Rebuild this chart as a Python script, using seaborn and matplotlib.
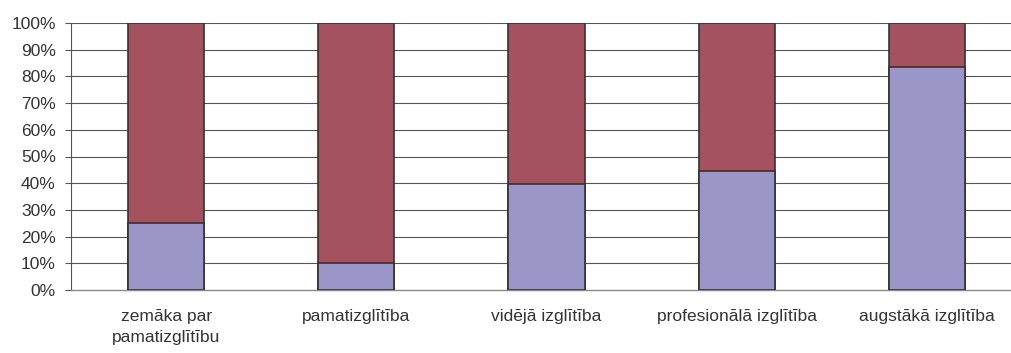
import matplotlib
matplotlib.use("Agg")
import matplotlib.pyplot as plt
import seaborn as sns
import pandas as pd
from matplotlib.ticker import FuncFormatter

categories = ["zemāka par\npamatizglītību", "pamatizglītība", "vidējā izglītība",
              "profesionālā izglītība", "augstākā izglītība"]
lower_share = [25.0, 10.0, 39.6, 44.7, 83.6]
upper_share = [100 - v for v in lower_share]
y_ticks = list(range(0, 101, 10))

lower_color = "#9C95C8"
upper_color = "#A4525F"
edge = "#333333"
text_color = "#333333"

sns.set_theme(style="white")
plt.rcParams['font.family'] = ['Liberation Sans', 'DejaVu Sans']

df = pd.DataFrame({
    "cat": categories,
    "lower": lower_share,
    "total": [l + u for l, u in zip(lower_share, upper_share)],
})

fig = plt.figure(figsize=(10.11, 3.53), dpi=100)
ax = fig.add_axes([71 / 1011, 1 - 290 / 353, (1022 - 71) / 1011, (290 - 23) / 353])

sns.barplot(data=df, x="cat", y="total", color=upper_color, width=0.4,
            edgecolor=edge, linewidth=1.2, saturation=1, ax=ax, zorder=3)
sns.barplot(data=df, x="cat", y="lower", color=lower_color, width=0.4,
            edgecolor=edge, linewidth=1.2, saturation=1, ax=ax, zorder=3)

ax.set_ylim(0, 100)
ax.set_xlim(-0.5, len(categories) - 0.5)
ax.set_yticks(y_ticks)
ax.yaxis.set_major_formatter(FuncFormatter(lambda v, p: f"{int(v)}%"))
for y in y_ticks[1:]:
    ax.axhline(y, color="#555555", lw=0.8, zorder=1)

ax.set_xlabel("")
ax.set_ylabel("")
ax.set_xticks(range(len(categories)))
ax.set_xticklabels(categories, fontsize=12.5, color=text_color, linespacing=1.45)
ax.set_xticks([i + 0.5 for i in range(len(categories) - 1)], minor=True)
ax.tick_params(axis="x", which="major", length=0, pad=14)
ax.tick_params(axis="x", which="minor", length=5, width=0.8, color="#555555", direction="out")
ax.tick_params(axis="y", which="major", length=4, width=0.8, color="#555555",
               direction="out", labelsize=12.5, labelcolor=text_color, pad=7)
ax.tick_params(axis="both", bottom=True, left=True)
ax.tick_params(axis="x", which="major", bottom=False)

for s in ["top", "right"]:
    ax.spines[s].set_visible(False)
ax.spines["left"].set_color("#555555")
ax.spines["left"].set_linewidth(0.8)
ax.spines["bottom"].set_color("#888888")
ax.spines["bottom"].set_linewidth(1.0)

fig.savefig("out.png", dpi=100)
